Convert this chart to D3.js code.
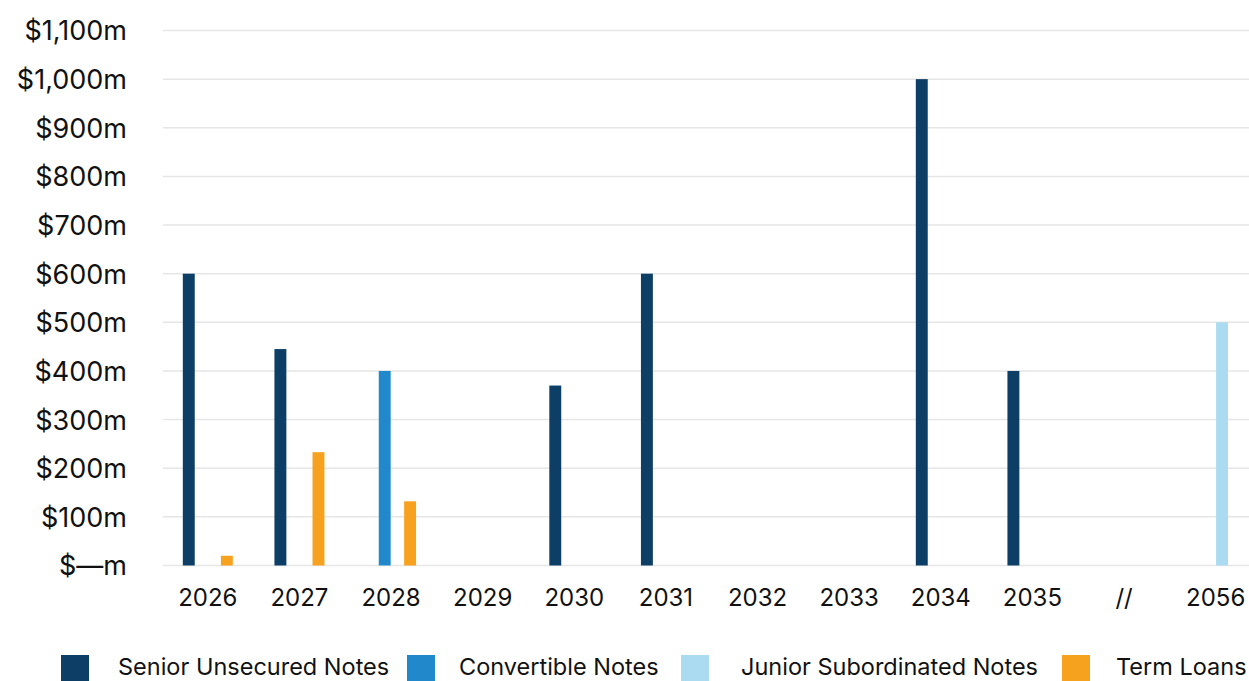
<!DOCTYPE html>
<html><head><meta charset="utf-8">
<script src="https://cdn.jsdelivr.net/npm/d3@7"></script>
<style>body{margin:0;background:#fff}svg{display:block}text{font-family:"Inter","Liberation Sans",Arial,sans-serif;fill:#111}</style>
</head><body><svg id="c" width="1249" height="681"></svg>
<script>
const categories = ["2026","2027","2028","2029","2030","2031","2032","2033","2034","2035","//","2056"];
const seriesNames = ["Senior Unsecured Notes","Convertible Notes","Junior Subordinated Notes","Term Loans"];
const seniorUnsecured = [600,445,0,0,370,600,0,0,1000,400,0,0];
const convertible = [0,0,400,0,0,0,0,0,0,0,0,0];
const juniorSubordinated = [0,0,0,0,0,0,0,0,0,0,0,500];
const termLoans = [20,233,132,0,0,0,0,0,0,0,0,0];
const yTicks = [0,100,200,300,400,500,600,700,800,900,1000,1100];
const colors = ["#0d3f66","#2189cb","#aadbf0","#f7a21e"];

const seriesValues = [seniorUnsecured, convertible, juniorSubordinated, termLoans];
const svg = d3.select("#c");
const W = 1249;
const x = d3.scaleBand().domain(categories).range([162, 1261.5]);
const xi = d3.scaleBand().domain(seriesNames).range([-25, 25]).paddingInner(0.06);
const y = d3.scaleLinear().domain([0,1100]).range([565.5, 30.5]);

svg.append("g").selectAll("line").data(yTicks).join("line")
  .attr("x1",163).attr("x2",W).attr("y1",d=>y(d)).attr("y2",d=>y(d))
  .attr("stroke","#e6e6e6").attr("stroke-width",1.5);

const fmt = d => d===0 ? "$\u2014m" : "$" + d3.format(",")(d) + "m";
const yAxis = d3.axisLeft(y).tickValues(yTicks).tickFormat(fmt).tickSize(0).tickPadding(0);
const ga = svg.append("g").attr("transform","translate(127,0)").call(yAxis);
ga.select(".domain").remove();
ga.selectAll("text").style("font-size","27px").style("font-family",null).attr("fill","#111").attr("dy","0.35em");

const xAxis = d3.axisBottom(x).tickSize(0).tickPadding(0);
const gx = svg.append("g").attr("transform","translate(0,598)").call(xAxis);
gx.select(".domain").remove();
gx.selectAll("text").style("font-size","24px").style("font-family",null).attr("fill","#111").attr("dy","0.35em");

seriesNames.forEach((s,si)=>{
  svg.append("g").selectAll("rect").data(categories.map((c,i)=>({c,v:seriesValues[si][i]})).filter(d=>d.v>0))
    .join("rect")
    .attr("x",d=>x(d.c)+x.bandwidth()/2+xi(s))
    .attr("width",xi.bandwidth())
    .attr("y",d=>y(d.v)).attr("height",d=>y(0)-y(d.v))
    .attr("fill",colors[si]);
});

const legX = [61, 407, 681, 1062];
const legTX = [118, 459, 741, 1116];
const lg = svg.append("g");
seriesNames.forEach((s,i)=>{
  lg.append("rect").attr("x",legX[i]).attr("y",655).attr("width",28).attr("height",28).attr("fill",colors[i]);
  lg.append("text").attr("x",legTX[i]).attr("y",675).style("font-size","23.5px").text(s);
});
</script></body></html>
